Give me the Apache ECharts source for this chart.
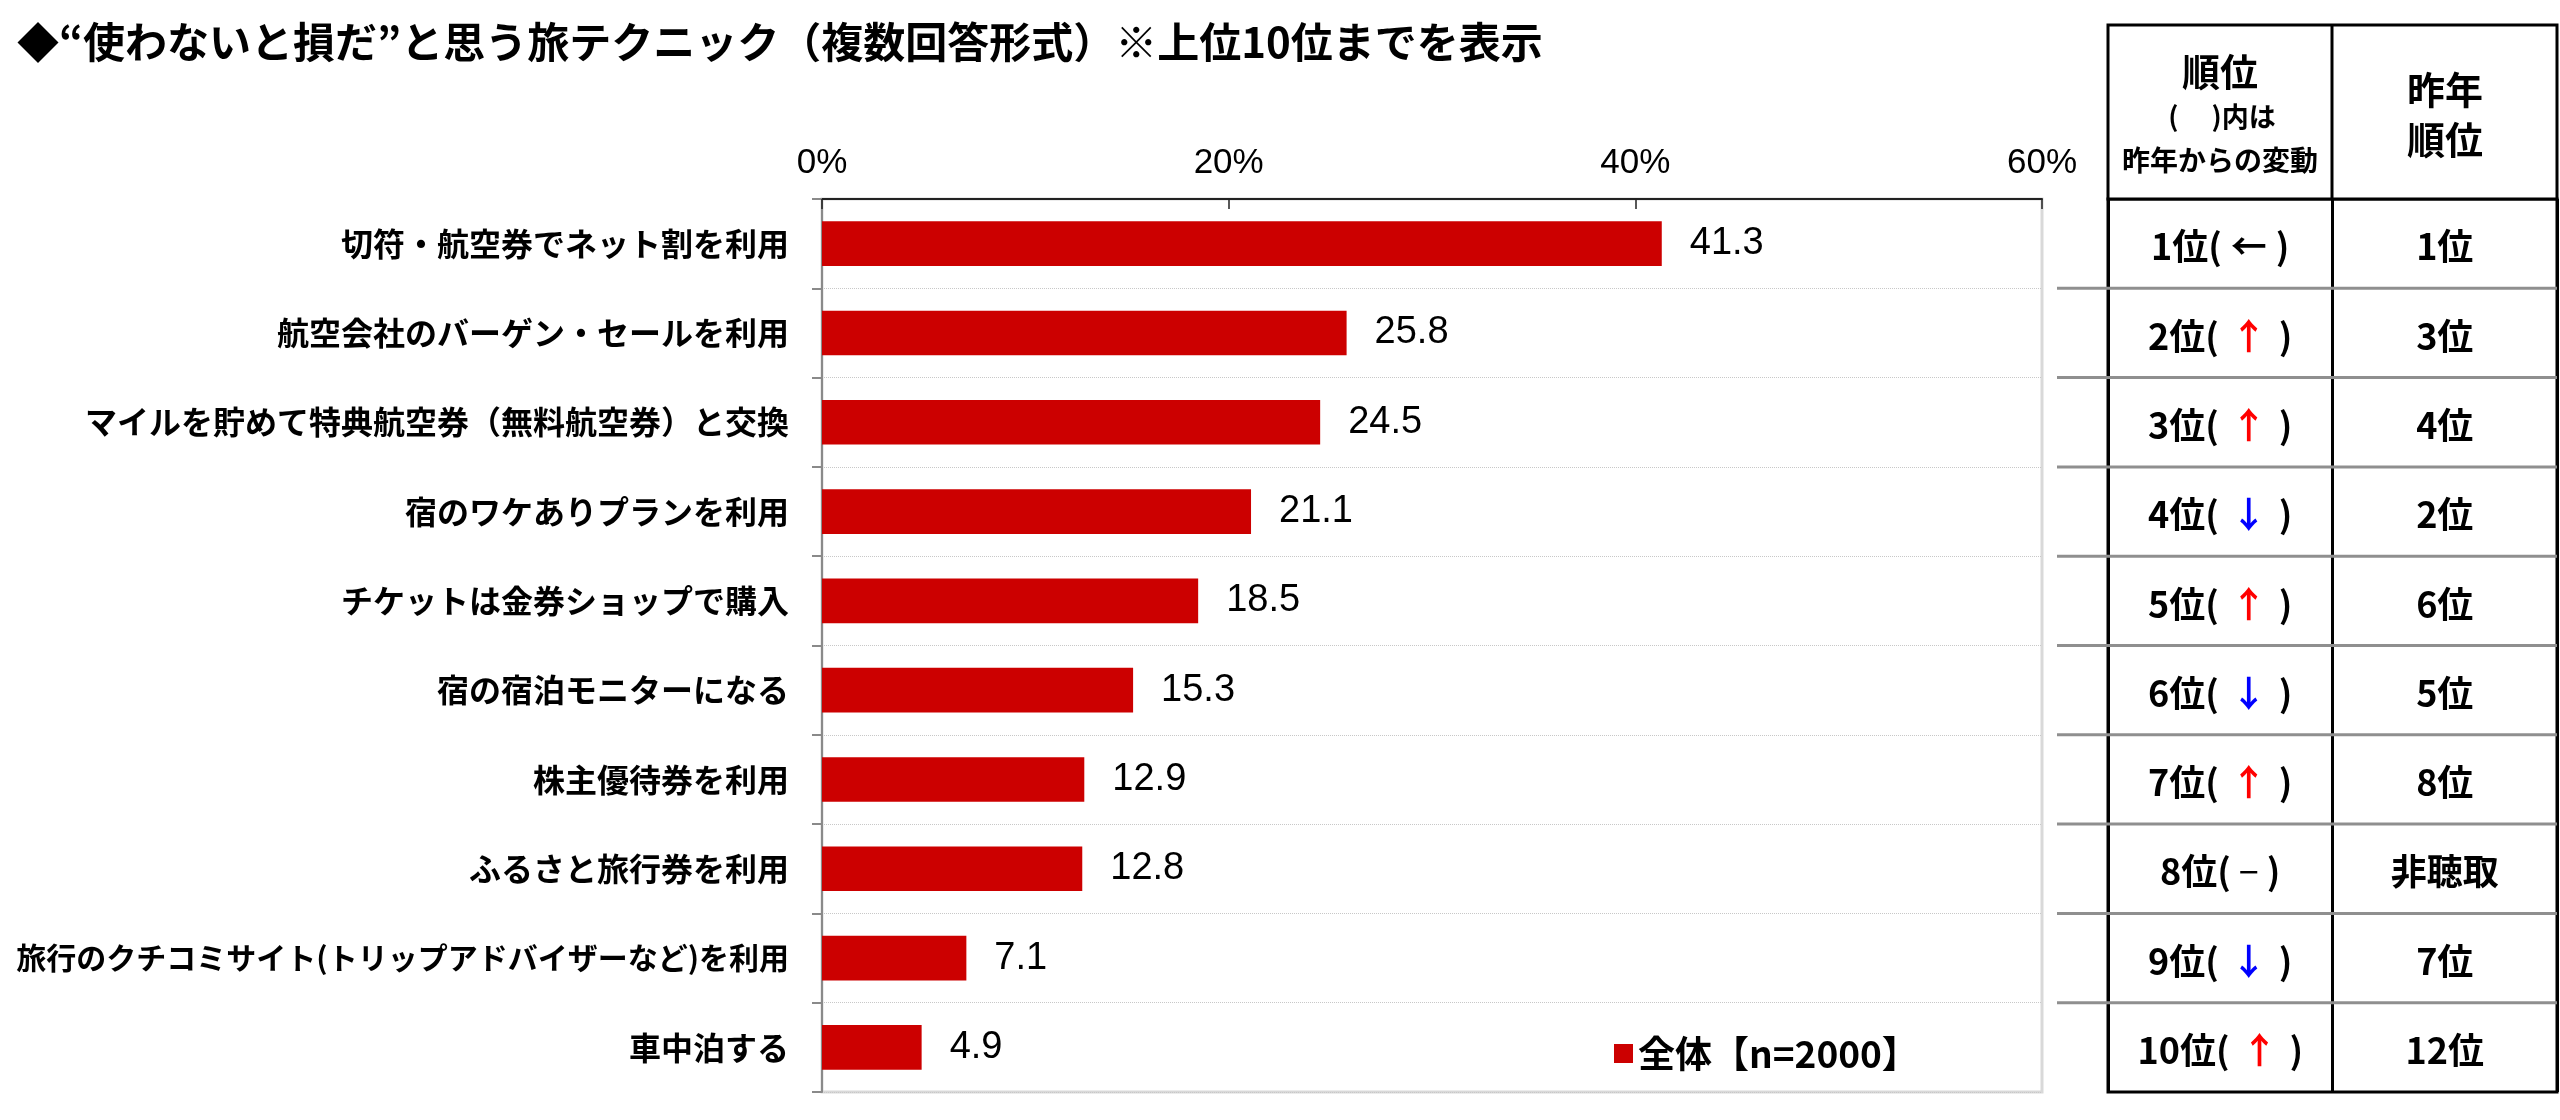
<!DOCTYPE html>
<html>
<head>
<meta charset="utf-8">
<script src="https://cdn.jsdelivr.net/npm/echarts@6/dist/echarts.min.js"></script>
<style>
html,body{margin:0;padding:0;background:#fff;}
#chart{width:2560px;height:1120px;}
</style>
</head>
<body>
<div id="chart"></div>
<script>
// ---- data ----
const titleText = '◆“使わないと損だ”と思う旅テクニック（複数回答形式）※上位10位までを表示';
const categories = [
  '切符・航空券でネット割を利用',
  '航空会社のバーゲン・セールを利用',
  'マイルを貯めて特典航空券（無料航空券）と交換',
  '宿のワケありプランを利用',
  'チケットは金券ショップで購入',
  '宿の宿泊モニターになる',
  '株主優待券を利用',
  'ふるさと旅行券を利用',
  '旅行のクチコミサイト(トリップアドバイザーなど)を利用',
  '車中泊する'
];
const values = [41.3, 25.8, 24.5, 21.1, 18.5, 15.3, 12.9, 12.8, 7.1, 4.9];
const seriesName = '全体【n=2000】';
const xTicks = { min: 0, max: 60, interval: 20 };
const rankNow = ['1位','2位','3位','4位','5位','6位','7位','8位','9位','10位'];
const rankChange = ['←','↑','↑','↓','↑','↓','↑','－','↓','↑'];
const prevRank = ['1位','3位','4位','2位','6位','5位','8位','非聴取','7位','12位'];
const tableColumns = ['順位', '昨年順位'];
const headerCol1 = ['順位', '(　 )内は', '昨年からの変動'];
const headerCol2 = ['昨年', '順位'];

// ---- chart ----
const CJK = "'Noto Sans CJK JP', sans-serif";
const LAT = "'Liberation Sans', Arial, sans-serif";
const chart = echarts.init(document.getElementById('chart'), null, {renderer: 'canvas'});

const tableData = [];
rankNow.forEach((r, i) => { tableData.push({value: [0, i]}); tableData.push({value: [1, i]}); });

function arrowStyle(a) { return a === '↑' ? 'up' : (a === '↓' ? 'down' : (a === '←' ? 'left' : 'flat')); }

const tStyle = {fontFamily: CJK, fontWeight: 'bold', fontSize: 36};

const option = {
  backgroundColor: '#fff',
  animation: false,
  title: {
    text: titleText, left: 12, top: 16,
    textStyle: {fontFamily: CJK, fontWeight: 'bold', fontSize: 42, color: '#000'}
  },
  legend: {
    data: [seriesName], left: 1609, top: 1030, itemWidth: 19, itemHeight: 19, icon: 'rect',
    textStyle: {fontFamily: CJK, fontWeight: 'bold', fontSize: 37, color: '#000'}
  },
  grid: [
    {left: 822, right: 518, top: 199, bottom: 28, show: true, borderColor: '#d9d9d9', borderWidth: 3, backgroundColor: '#fff', containLabel: false, outerBoundsMode: 'none'},
    {left: 2108, right: 3, top: 199, bottom: 28, show: true, borderColor: '#000', borderWidth: 3, backgroundColor: 'transparent', containLabel: false, outerBoundsMode: 'none'}
  ],
  xAxis: [
    {
      type: 'value', gridIndex: 0, position: 'top', min: xTicks.min, max: xTicks.max, interval: xTicks.interval,
      axisLine: {show: true, lineStyle: {color: '#222', width: 2}},
      axisTick: {show: true, inside: true, length: 10, lineStyle: {color: '#222', width: 1.5}},
      splitLine: {show: false},
      axisLabel: {formatter: '{value}%', fontFamily: LAT, fontSize: 35, color: '#000', margin: 18}
    },
    {
      type: 'category', gridIndex: 1, data: tableColumns, position: 'top',
      axisLine: {show: false}, axisTick: {show: false}, axisLabel: {show: false},
      splitLine: {show: true, interval: 0, lineStyle: {color: '#000', width: 3}}
    }
  ],
  yAxis: [
    {
      type: 'category', gridIndex: 0, data: categories, inverse: true,
      axisLine: {show: true, lineStyle: {color: '#8a8a8a', width: 2}},
      axisTick: {show: true, length: 10, lineStyle: {color: '#8a8a8a', width: 2}},
      splitLine: {show: true, lineStyle: {color: '#c8c8c8', width: 1, type: 'dotted'}},
      axisLabel: {
        fontFamily: CJK, fontWeight: 'bold', fontSize: 32, color: '#000', margin: 33,
        formatter: v => v.length > 24 ? '{s|' + v + '}' : v,
        rich: {s: {fontFamily: CJK, fontWeight: 'bold', fontSize: 30, color: '#000'}}
      }
    },
    {
      type: 'category', gridIndex: 1, data: rankNow, inverse: true,
      axisLine: {show: false}, axisTick: {show: false}, axisLabel: {show: false}, splitLine: {show: false}
    }
  ],
  series: [
    {
      name: seriesName, type: 'bar', xAxisIndex: 0, yAxisIndex: 0, data: values, barWidth: '50%',
      itemStyle: {color: '#cc0000'},
      label: {
        show: true, position: 'right', distance: 28, formatter: p => p.value.toFixed(1),
        fontFamily: LAT, fontSize: 38, color: '#000'
      }
    },
    {
      type: 'custom', xAxisIndex: 1, yAxisIndex: 1, data: tableData, z: 5,
      renderItem: function (params, api) {
        const col = api.value(0), row = api.value(1);
        const c = api.coord([col, row]);
        const s = api.size([1, 1]);
        const children = [];
        if (col === 0) {
          const a = rankChange[row];
          children.push({
            type: 'text', x: c[0], y: c[1] + 3,
            style: {
              text: '{t|' + rankNow[row] + '(}{' + arrowStyle(a) + '|' + a + '}{t|)}',
              align: 'center', verticalAlign: 'middle',
              rich: {
                t: Object.assign({fill: '#000'}, tStyle),
                up: Object.assign({fill: '#ff0000', padding: [0, 12]}, tStyle),
                down: Object.assign({fill: '#0000ff', padding: [0, 12]}, tStyle),
                left: Object.assign({fill: '#000', padding: [0, 9]}, tStyle),
                flat: Object.assign({fill: '#000', padding: [0, 6]}, tStyle, {fontSize: 24})
              }
            }
          });
          if (row < rankNow.length - 1) {
            const x0 = c[0] - s[0] / 2;
            children.push({
              type: 'line', z2: 10,
              shape: {x1: x0 - 51, y1: c[1] + s[1] / 2, x2: x0 + 2 * s[0], y2: c[1] + s[1] / 2},
              style: {stroke: '#8f8f8f', lineWidth: 3}
            });
          }
        } else {
          children.push({
            type: 'text', x: c[0], y: c[1] + 3,
            style: Object.assign({text: prevRank[row], align: 'center', verticalAlign: 'middle', fill: '#000'}, tStyle)
          });
        }
        return {type: 'group', children: children};
      }
    }
  ],
  graphic: [
    {type: 'rect', shape: {x: 2108, y: 25, width: 449, height: 174}, style: {fill: '#fff', stroke: '#000', lineWidth: 3}, z: 1},
    {type: 'line', shape: {x1: 2332, y1: 25, x2: 2332, y2: 199}, style: {stroke: '#000', lineWidth: 3}, z: 2},
    {type: 'text', x: 2220, y: 72, style: {text: headerCol1[0], align: 'center', verticalAlign: 'middle', fontFamily: CJK, fontWeight: 'bold', fontSize: 38, fill: '#000'}, z: 3},
    {type: 'text', x: 2222, y: 117, style: {text: headerCol1[1], align: 'center', verticalAlign: 'middle', fontFamily: CJK, fontWeight: 'bold', fontSize: 27, fill: '#000'}, z: 3},
    {type: 'text', x: 2220, y: 160, style: {text: headerCol1[2], align: 'center', verticalAlign: 'middle', fontFamily: CJK, fontWeight: 'bold', fontSize: 28, fill: '#000'}, z: 3},
    {type: 'text', x: 2445, y: 90, style: {text: headerCol2[0], align: 'center', verticalAlign: 'middle', fontFamily: CJK, fontWeight: 'bold', fontSize: 38, fill: '#000'}, z: 3},
    {type: 'text', x: 2445, y: 140, style: {text: headerCol2[1], align: 'center', verticalAlign: 'middle', fontFamily: CJK, fontWeight: 'bold', fontSize: 38, fill: '#000'}, z: 3}
  ]
};
chart.setOption(option);
</script>
</body>
</html>
